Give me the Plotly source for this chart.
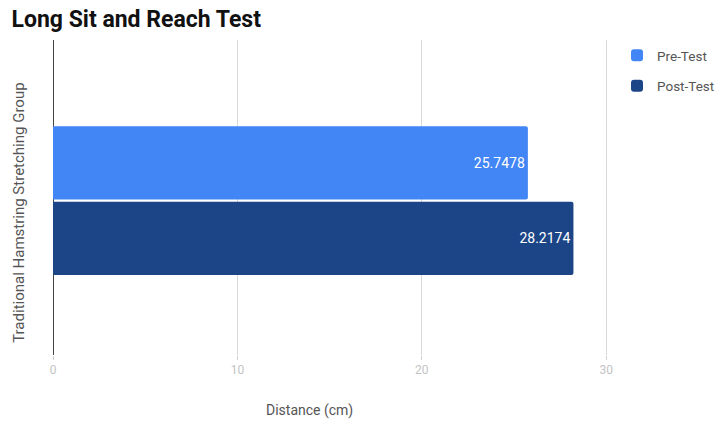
import plotly.graph_objects as go

# Data
groups = ["Traditional Hamstring Stretching Group"]
series_names = ["Pre-Test", "Post-Test"]
pre_test = [25.7478]
post_test = [28.2174]
series_values = [pre_test, post_test]
series_colors = ["#4285F4", "#1C4587"]
x_ticks = [0, 10, 20, 30]

fig = go.Figure()
for name, vals, col in zip(series_names, series_values, series_colors):
    fig.add_trace(go.Bar(
        name=name,
        legendgroup=name,
        y=groups,
        x=vals,
        orientation="h",
        marker=dict(color=col, line=dict(width=0), cornerradius=2),
        text=[f"{v:g}" for v in vals],
        textposition="inside",
        insidetextanchor="end",
        textfont=dict(color="white", size=14, family="Roboto"),
        cliponaxis=False,
    ))

fig.update_layout(
    width=717, height=421,
    margin=dict(l=53, r=107, t=40, b=66, autoexpand=False),
    paper_bgcolor="white", plot_bgcolor="white",
    barmode="group", bargap=0.52, bargroupgap=0.03,
    font=dict(family="Roboto", color="#555555"),
    title=dict(text="<b>Long Sit and Reach Test</b>", x=0.016, xanchor="left",
               y=0.955, yanchor="middle",
               font=dict(size=23, color="#111111", family="Roboto")),
    legend=dict(x=1.0126, xanchor="left", y=1.0, yanchor="top",
                font=dict(size=13.5, color="#555555"),
                itemwidth=30, tracegroupgap=10, traceorder="grouped"),
    xaxis=dict(range=[0, 30.2], tickvals=x_ticks, showgrid=True,
               gridcolor="#d9d9d9", gridwidth=1,
               zeroline=True, zerolinecolor="#444444", zerolinewidth=1,
               ticks="outside", ticklen=4, tickcolor="#d0d0d0",
               tickfont=dict(size=12, color="#c4c4c4"), showline=False),
    yaxis=dict(showticklabels=False, showgrid=False, range=[0.49, -0.51],
               zeroline=False, showline=False, ticks=""),
    annotations=[
        dict(text="Distance (cm)", xref="paper", yref="paper",
             x=(309 - 53) / (610 - 53), y=-0.175, xanchor="center", yanchor="middle",
             showarrow=False, font=dict(size=14, color="#555555")),
        dict(text=groups[0], xref="paper", yref="paper",
             x=-0.06, y=0.45, textangle=-90, xanchor="center", yanchor="middle",
             showarrow=False, font=dict(size=15, color="#555555")),
    ],
)

fig.write_html("out.html")
